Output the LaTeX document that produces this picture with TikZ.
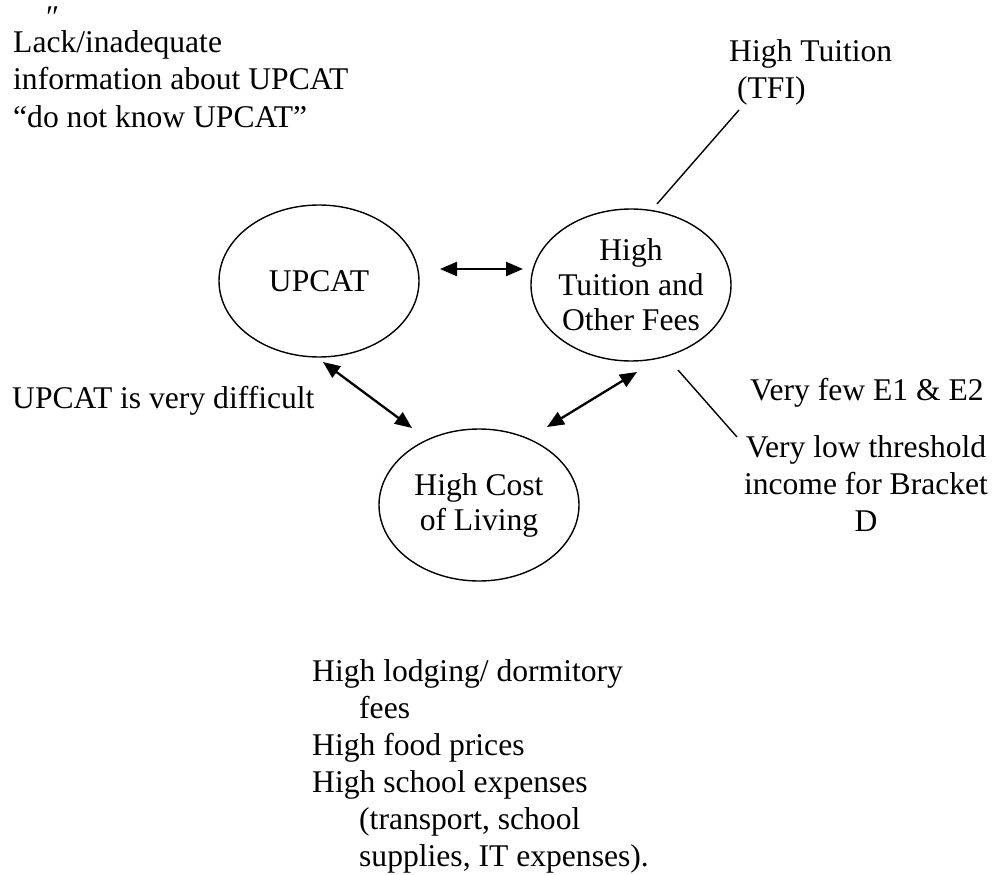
\documentclass[tikz,border=0pt]{standalone}
\usepackage{fontspec}
\setmainfont{Liberation Serif}
\usetikzlibrary{arrows.meta,shapes.geometric}
\newcommand\reftxt{\fontsize{31.6pt}{37pt}\selectfont}
\newcommand\bubtxt{\fontsize{31.6pt}{35pt}\selectfont}
\newcommand\hangitem{\par\hangindent=47pt\hangafter=1\noindent}
\tikzset{
  every node/.style={inner sep=0pt, font=\reftxt},
  bubble/.style={draw, ellipse, line width=1.4pt, minimum width=200pt, minimum height=152pt,
                 inner sep=-8pt, align=center, font=\bubtxt},
  link/.style={line width=2.3pt, {Triangle[length=17pt,width=14pt]}-{Triangle[length=17pt,width=14pt]}},
  tie/.style={line width=1.4pt},
  txt/.style={anchor=base west},
}
\begin{document}
\begin{tikzpicture}[x=1pt,y=-1pt]
\useasboundingbox (0,0) rectangle (994,875);
% ellipses
\node[bubble] (upcat) at (319,281) {UPCAT};
\node[bubble] (fees) at (631,285) {High\\Tuition and\\Other Fees};
\node[bubble] (cost) at (479,505) {High Cost\\of Living};
% texts
\node[anchor=base west, text depth=0pt] (mark) at (46,28) {\char"2033};
\node[txt] (lack) at (13,53) {\parbox[t]{600pt}{\raggedright Lack/inadequate\\information about UPCAT\\“do not know UPCAT”}};
\node[txt] (tfi) at (729,62) {\parbox[t]{260pt}{\raggedright High Tuition\\\hspace*{0.25em}(TFI)}};
\node[txt] (diff) at (12,408) {UPCAT is very difficult};
\node[txt] (few) at (750,400) {Very few E1 \& E2};
\node[anchor=base] (low) at (866,457) {\parbox[t]{260pt}{\centering Very low threshold\\income for Bracket\\D}};
\node[txt] (list) at (312,681) {\parbox[t]{600pt}{\raggedright
  \hangitem High lodging/ dormitory\newline fees
  \hangitem High food prices
  \hangitem High school expenses\newline (transport, school\newline supplies, IT expenses).}};
% connector ends
\coordinate (h1) at (440,269);
\coordinate (h2) at (523,269);
\coordinate (l1) at (323,362);
\coordinate (l2) at (412,428);
\coordinate (r1) at (547,427);
\coordinate (r2) at (637,372);
\coordinate (t1) at (739,110);
\coordinate (t2) at (657,204);
\coordinate (v1) at (678,370);
\coordinate (v2) at (737,437);
\draw[link] (h1) -- (h2);
\draw[link] (l1) -- (l2);
\draw[link] (r1) -- (r2);
\draw[tie] (t1) -- (t2);
\draw[tie] (v1) -- (v2);
\end{tikzpicture}
\end{document}
